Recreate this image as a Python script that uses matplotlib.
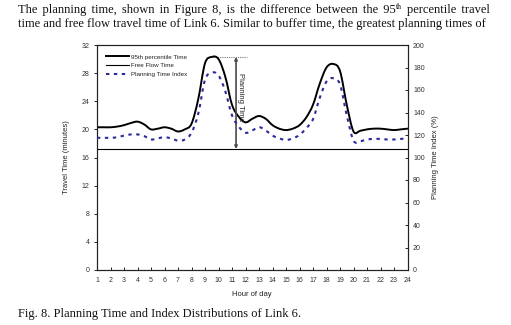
import numpy as np
import matplotlib
matplotlib.use("Agg")
import matplotlib.pyplot as plt
from matplotlib.path import Path
from matplotlib.patches import PathPatch
from matplotlib.lines import Line2D

# ---------------- data ----------------
hours = [1.0, 1.5, 2.0, 2.5, 3.0, 3.5, 4.0, 4.5, 5.0, 5.5, 6.0, 6.5, 7.0, 7.5,
         8.0, 8.5, 9.0, 9.5, 10.0, 10.5, 11.0, 11.5, 12.0, 12.5, 13.0, 13.5,
         14.0, 14.5, 15.0, 15.5, 16.0, 16.5, 17.0, 17.5, 18.0, 18.5, 19.0,
         19.5, 20.0, 20.5, 21.0, 21.5, 22.0, 22.5, 23.0, 23.5, 24.0]
p95_time = [20.3, 20.3, 20.3, 20.4, 20.6, 20.9, 21.1, 20.7, 20.0, 20.1, 20.3,
            20.1, 19.7, 20.0, 20.8, 24.3, 29.4, 30.3, 30.0, 27.5, 23.5, 21.8,
            21.0, 21.5, 21.9, 21.5, 20.6, 20.1, 19.9, 20.1, 20.6, 21.7, 23.5,
            26.5, 28.8, 29.3, 28.3, 23.5, 19.7, 19.8, 20.0, 20.1, 20.1, 20.0,
            19.9, 20.0, 20.1]
free_flow = [17.2] * len(hours)
pti = [117.5, 117.5, 117.5, 118.0, 119.5, 120.5, 120.5, 119.0, 116.0, 117.0,
       118.0, 117.0, 115.0, 116.0, 122.0, 139.0, 169.0, 175.5, 173.0, 159.0,
       137.5, 127.5, 122.0, 124.0, 127.0, 124.0, 119.5, 117.0, 115.5, 117.0,
       120.0, 126.0, 134.0, 153.0, 167.5, 170.5, 165.0, 137.5, 115.0, 114.5,
       116.0, 116.5, 116.5, 116.0, 116.0, 116.5, 117.0]
x_ticks = list(range(1, 25))
left_ticks = [0, 4, 8, 12, 16, 20, 24, 28, 32]
right_ticks = [0, 20, 40, 60, 80, 100, 120, 140, 160, 180, 200]

para_line1 = [("The planning time, shown in Figure 8, is the difference between the 95", False),
              ("th", True), ("percentile travel", False)]
para_line2 = [("time and free flow travel time of Link 6. Similar to buffer time, the greatest planning times of", False)]
caption = "Fig. 8. Planning Time and Index Distributions of Link 6."

# ---------------- figure ----------------
W, H = 511, 325
fig = plt.figure(figsize=(W / 100, H / 100), dpi=100)
fig.patch.set_facecolor("white")
sans = ["Liberation Sans", "DejaVu Sans"]
serif = ["Liberation Serif", "DejaVu Serif"]

ax = fig.add_axes([97 / W, 1 - 270 / H, (407.5 - 97) / W, (270 - 45) / H])
ax2 = ax.twinx()


def smooth_path(xs, ys):
    """Smoothed line through the data points (Catmull-Rom as cubic Bezier)."""
    xs = np.asarray(xs, float)
    ys = np.asarray(ys, float)
    n = len(xs)
    verts = [(xs[0], ys[0])]
    codes = [Path.MOVETO]
    for i in range(n - 1):
        i0 = max(i - 1, 0)
        i3 = min(i + 2, n - 1)
        c1 = (xs[i] + (xs[i + 1] - xs[i0]) / 6, ys[i] + (ys[i + 1] - ys[i0]) / 6)
        c2 = (xs[i + 1] - (xs[i3] - xs[i]) / 6, ys[i + 1] - (ys[i3] - ys[i]) / 6)
        verts += [c1, c2, (xs[i + 1], ys[i + 1])]
        codes += [Path.CURVE4] * 3
    return Path(verts, codes)


ax.add_patch(PathPatch(smooth_path(hours, p95_time), fill=False, edgecolor="black",
                       lw=1.4, capstyle="round", joinstyle="round", zorder=3))
ax.plot(hours, free_flow, color="black", lw=0.8, zorder=3)
blue = "#2a2a9a"
blue_ls = (0, (1.6, 2.2))
ax2.add_patch(PathPatch(smooth_path(hours, pti), fill=False, edgecolor=blue,
                        lw=1.5, linestyle=blue_ls, zorder=3))

ax.set_xlim(1, 24)
ax.set_ylim(0, 32)
ax2.set_ylim(0, 200)
ax.set_xticks(x_ticks)
ax.set_yticks(left_ticks)
ax2.set_yticks(right_ticks)

tick_col = "#333333"
ax.tick_params(axis="x", direction="in", length=2.5, width=0.6, labelsize=5,
               labelcolor=tick_col, pad=5)
ax.tick_params(axis="y", direction="out", length=2.5, width=0.6, labelsize=5,
               labelcolor=tick_col, pad=3)
ax2.tick_params(axis="y", direction="in", length=2.5, width=0.6, labelsize=5,
                labelcolor=tick_col, pad=4)
for lab in ax.get_xticklabels() + ax.get_yticklabels() + ax2.get_yticklabels():
    lab.set_family(sans)

for a in (ax, ax2):
    for s in a.spines.values():
        s.set_linewidth(0.8)
        s.set_color("#222222")

ax.set_xlabel("Hour of day", fontsize=5.5, family=sans, color="#222222", labelpad=5)
ax.set_ylabel("Travel Time (minutes)", fontsize=5.5, family=sans, color="#222222", labelpad=8)
ax2.set_ylabel("Planning Time Index (%)", fontsize=5.5, family=sans, color="#222222", labelpad=5)

# planning time annotation
peak = max(p95_time)
ax.hlines(peak, 9.6, 12.1, colors="#777777", linestyles=(0, (1, 1)), lw=0.8, zorder=2)
ax.annotate("", xy=(11.3, peak), xytext=(11.3, free_flow[0]),
            arrowprops=dict(arrowstyle="<|-|>", color="#4a4a4a", lw=1.2,
                            mutation_scale=4, shrinkA=0, shrinkB=0), zorder=4)
ax.text(11.65, 24.6, "Planning Time", rotation=-90, ha="center", va="center",
        fontsize=5.5, family=sans, color="#222222", zorder=5)

# legend
handles = [Line2D([], [], color="black", lw=1.4),
           Line2D([], [], color="black", lw=0.8),
           Line2D([], [], color=blue, lw=1.5, linestyle=blue_ls)]
labels = ["95th percentile Time", "Free Flow Time", "Planning Time Index"]
leg = ax2.legend(handles, labels, loc="upper left", bbox_to_anchor=(0.02, 0.97),
                 frameon=False, prop={"family": sans, "size": 4.5},
                 handlelength=3.8, handletextpad=0.2, labelspacing=0.55,
                 borderaxespad=0.0)
for t in leg.get_texts():
    t.set_color("#222222")

# ---------------- paragraph text (justified with hair spaces) ----------------
renderer = fig.canvas.get_renderer()
HS = "\u200a"


def text_width(s, fs):
    t = fig.text(0, 0, s, fontsize=fs, family=serif)
    w = t.get_window_extent(renderer).width
    t.remove()
    return w


def justify_line(segments, x0, x1, y, fs):
    sizes = [fs * 0.62 if sup else fs for _, sup in segments]
    between = [(i > 0 and not segments[i][1]) for i in range(len(segments))]
    sp = text_width("a a", fs) - text_width("aa", fs)
    hs = (text_width("a" + HS * 20 + "a", fs) - text_width("aa", fs)) / 20

    def measure(k):
        gap = sp + k * hs
        total = 0.0
        for i, ((s, sup), z) in enumerate(zip(segments, sizes)):
            if between[i]:
                total += gap
            total += text_width(s.replace(" ", " " + HS * k), z)
        return total

    k = 0
    for kk in range(12, -1, -1):
        if measure(kk) <= (x1 - x0) + 1:
            k = kk
            break
    gap = sp + k * hs
    x = x0
    for i, ((s, sup), z) in enumerate(zip(segments, sizes)):
        if between[i]:
            x += gap
        txt = s.replace(" ", " " + HS * k)
        yy = y - (fs * 0.5 if sup else 0)
        fig.text(x / W, 1 - yy / H, txt, fontsize=z, family=serif,
                 ha="left", va="baseline", color="#111111")
        x += text_width(txt, z)


justify_line(para_line1, 18, 490, 13.5, 9.0)
justify_line(para_line2, 18, 490, 27, 9.0)
fig.text(18 / W, 1 - 317 / H, caption, fontsize=9.0, family=serif,
         ha="left", va="baseline", color="#111111")

fig.savefig("out.png", dpi=100, facecolor="white")
